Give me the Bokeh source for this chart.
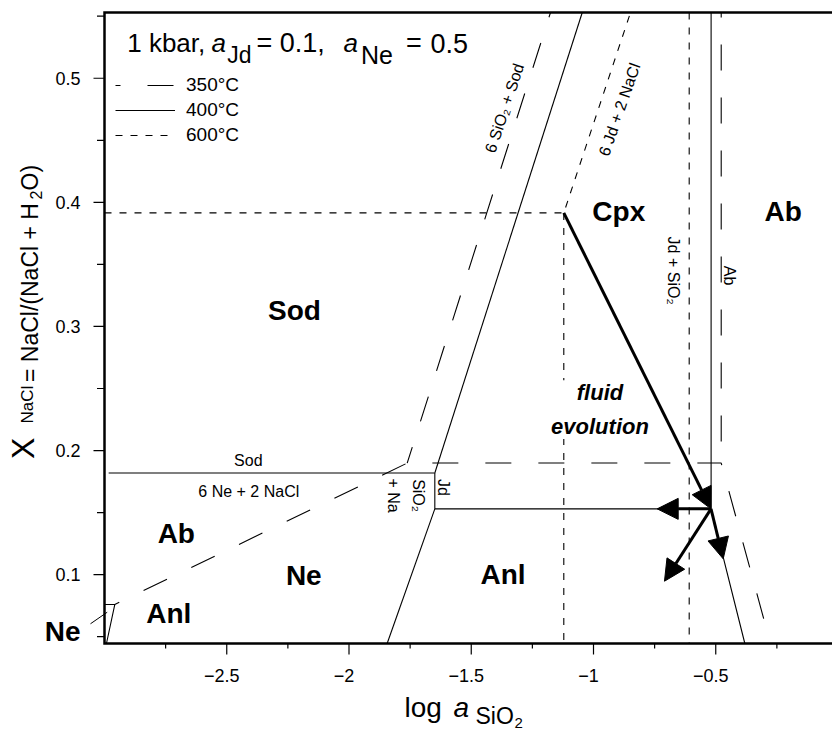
import math
from bokeh.plotting import figure
from bokeh.models import (Range1d, Label, Arrow, NormalHead, ColumnDataSource,
                          Legend, LegendItem)
from bokeh.core.properties import value
from bokeh.embed import file_html
from bokeh.resources import INLINE

FONT = "Liberation Sans"

# ---------------- data (log aSiO2, X_NaCl) ----------------
# plotted window of the diagram
XMIN, XMAX = -3.0, -0.0225
YMIN, YMAX = 0.0445, 0.553

# ticks
x_major = [-2.5, -2.0, -1.5, -1.0, -0.5]
x_labels = ["\u22122.5", "\u22122", "\u22121.5", "\u22121", "\u22120.5"]
x_minor = [-2.75, -2.25, -1.75, -1.25, -0.75, -0.25]
y_major = [0.1, 0.2, 0.3, 0.4, 0.5]
y_labels = ["0.1", "0.2", "0.3", "0.4", "0.5"]
y_minor = [0.05, 0.15, 0.25, 0.35, 0.45, 0.55]

# 400 degC boundaries (solid)
x400_sod = [-2.983, -1.649];            y400_sod = [0.1819, 0.1819]
x400_jd = [-1.649, -1.649, -0.519];     y400_jd = [0.1819, 0.1530, 0.1530]
x400_cpx = [-1.046, -1.649];            y400_cpx = [0.553, 0.1819]
x400_anl = [-1.649, -1.844];            y400_anl = [0.1530, 0.0445]
x400_ab = [-0.519, -0.519, -0.381];     y400_ab = [0.553, 0.1530, 0.0445]
x400_ne = [-3.0, -2.958, -2.992];       y400_ne = [0.0759, 0.0759, 0.0445]

# 350 degC boundaries (long dash)
x350_a = [-2.958, -1.762, -0.4777, -0.2761]; y350_a = [0.0759, 0.1899, 0.1899, 0.0445]
x350_b = [-1.1759, -1.762];                  y350_b = [0.553, 0.1899]
x350_c = [-0.4777, -0.4777];                 y350_c = [0.553, 0.1899]

# 600 degC boundaries (short dash)
x600_a = [-3.0, -1.1215, -0.8487];  y600_a = [0.3915, 0.3915, 0.553]
x600_b = [-1.1215, -1.1215];        y600_b = [0.3915, 0.0445]
x600_c = [-0.6086, -0.6086];        y600_c = [0.553, 0.0445]

# fluid evolution arrows
arrow_x0 = [-1.1215, -0.5194, -0.5194, -0.5194]
arrow_y0 = [0.3915, 0.1530, 0.1530, 0.1530]
arrow_x1 = [-0.5194, -0.7395, -0.7097, -0.4695]
arrow_y1 = [0.1530, 0.1530, 0.0947, 0.1127]

# field labels (bold)
field_text = ["Sod", "Cpx", "Ab", "Ab", "Ne", "Anl", "Anl", "Ne"]
field_x = [-2.223, -0.8965, -0.2245, -2.7063, -2.1849, -2.737, -1.3701, -3.171]
field_y = [0.3128, 0.393, 0.3926, 0.1335, 0.0993, 0.0684, 0.1000, 0.0543]

# reaction labels (small)
rx_text = ["Sod", "6 Ne + 2 NaCl"]
rx_x = [-2.4118, -2.4098]
rx_y = [0.1917, 0.1671]

rot_text = ["6 SiO\u2082 + Sod", "6 Jd + 2 NaCl"]
rot_x = [-1.364, -0.8937]
rot_y = [0.476, 0.4748]
rot_angle = [1.25, 1.235]

vert_text = ["Jd + SiO\u2082", "Ab", "Jd", "SiO\u2082", "+ Na"]
vert_x = [-0.6708, -0.4438, -1.6135, -1.7157, -1.818]
vert_y = [0.345, 0.341, 0.1702, 0.1637, 0.1637]

leader_x = [-3.0573, -2.989]
leader_y = [0.0604, 0.0697]

temps = ["350\u00b0C", "400\u00b0C", "600\u00b0C"]

# ---------------- canvas / frame geometry ----------------
W, H = 832, 731
BOX_L, BOX_T, BOX_W, BOX_H = 104, 12, 728, 631   # plot box inside the canvas
kx = BOX_W / (XMAX - XMIN)
ky = BOX_H / (YMAX - YMIN)

p = figure(width=W, height=H,
           x_range=Range1d(XMIN - BOX_L / kx, XMAX + (W - BOX_L - BOX_W) / kx),
           y_range=Range1d(YMIN - (H - BOX_T - BOX_H) / ky, YMAX + BOX_T / ky),
           x_axis_location=None, y_axis_location=None,
           output_backend="svg", toolbar_location=None, min_border=0)
p.grid.grid_line_color = None
p.outline_line_color = None
p.background_fill_color = "white"
p.border_fill_color = "white"

# ---------------- axes: box, ticks, tick labels ----------------
p.line(x=[XMAX, XMIN, XMIN, XMAX], y=[YMAX, YMAX, YMIN, YMIN],
       line_color="black", line_width=2.5, line_join="miter")
p.ray(x=x_major, y=[YMIN] * len(x_major), length=11, length_units="screen",
      angle=-math.pi / 2, line_color="black", line_width=1.2)
p.ray(x=x_minor, y=[YMIN] * len(x_minor), length=5, length_units="screen",
      angle=-math.pi / 2, line_color="black", line_width=1.2)
p.ray(x=[XMIN] * len(y_major), y=y_major, length=11, length_units="screen",
      angle=math.pi, line_color="black", line_width=1.2)
p.ray(x=[XMIN] * len(y_minor), y=y_minor, length=7.5, length_units="screen",
      angle=math.pi, line_color="black", line_width=1.2)
p.text(x=x_major, y=[YMIN] * len(x_major), text=x_labels, x_offset=-5,
       y_offset=32, text_font=value(FONT), text_font_size="18px",
       text_align="center", text_baseline="middle", text_color="black")
p.text(x=[XMIN] * len(y_major), y=y_major, text=y_labels, x_offset=-24,
       text_font=value(FONT), text_font_size="18px", text_align="right",
       text_baseline="middle", text_color="black")

# ---------------- phase boundaries ----------------
r350 = p.multi_line(xs=[x350_a, x350_b, x350_c], ys=[y350_a, y350_b, y350_c],
                    line_color="black", line_width=1.1,
                    line_dash="26 27", line_dash_offset=21)
r400 = p.multi_line(xs=[x400_sod, x400_jd, x400_cpx, x400_anl, x400_ab, x400_ne],
                    ys=[y400_sod, y400_jd, y400_cpx, y400_anl, y400_ab, y400_ne],
                    line_color="black", line_width=1.1)
r600 = p.multi_line(xs=[x600_a, x600_b, x600_c], ys=[y600_a, y600_b, y600_c],
                    line_color="black", line_width=1.1, line_dash="7 8")
p.line(x=leader_x, y=leader_y, line_color="black", line_width=1)

legend = Legend(items=[LegendItem(label=temps[0], renderers=[r350]),
                       LegendItem(label=temps[1], renderers=[r400]),
                       LegendItem(label=temps[2], renderers=[r600])],
                location=(115, 585), glyph_width=60, glyph_height=22,
                label_height=22, spacing=3, padding=0, margin=0,
                label_standoff=11, label_text_font=FONT,
                label_text_font_size="19px", label_text_color="black",
                background_fill_alpha=0, border_line_color=None)
p.add_layout(legend)

# ---------------- labels ----------------
p.text(x=field_x, y=field_y, text=field_text, text_font=value(FONT),
       text_font_style="bold", text_font_size="28px", text_align="center",
       text_baseline="middle", text_color="black")
p.text(x=rx_x, y=rx_y, text=rx_text, text_font=value(FONT),
       text_font_size="16px", text_align="center", text_baseline="middle",
       text_color="black")
p.text(x=rot_x, y=rot_y, text=rot_text, angle=rot_angle, text_font=value(FONT),
       text_font_size="16px", text_align="center", text_baseline="middle",
       text_color="black")
p.text(x=vert_x, y=vert_y, text=vert_text, angle=-math.pi / 2,
       text_font=value(FONT), text_font_size="16px", text_align="center",
       text_baseline="middle", text_color="black")

p.add_layout(Label(x=-0.9735, y=0.233, text="fluid\nevolution",
                   text_font=FONT, text_font_style="bold italic",
                   text_font_size="22px", text_align="center",
                   text_baseline="middle", text_line_height=1.35,
                   background_fill_color="white", text_color="black"))

asrc = ColumnDataSource(dict(x0=arrow_x0, y0=arrow_y0, x1=arrow_x1, y1=arrow_y1))
p.add_layout(Arrow(x_start="x0", y_start="y0", x_end="x1", y_end="y1",
                   source=asrc, line_width=3, line_color="black",
                   end=NormalHead(size=21, fill_color="black",
                                  line_color="black", line_width=1)))


# ---------------- rich texts placed relative to the plot box ----------------
def piece(txt, x, y, dx, dy, size, style="normal", angle=0.0):
    p.text(x=[x], y=[y], text=[txt], x_offset=dx, y_offset=dy, angle=angle,
           text_font=value(FONT), text_font_size=size,
           text_font_style=style, text_align="left",
           text_baseline="middle", text_color="black")


# title (inside, top-left)
piece("1 kbar,", XMIN, YMAX, 22.7, 30.6, "26px")
piece("a", XMIN, YMAX, 107.0, 30.6, "26px", "italic")
piece("Jd", XMIN, YMAX, 122.7, 42.0, "23px")
piece("= 0.1,", XMIN, YMAX, 152.0, 30.6, "27px")
piece("a", XMIN, YMAX, 239.0, 30.6, "26px", "italic")
piece("Ne", XMIN, YMAX, 256.5, 42.0, "25px")
piece("=", XMIN, YMAX, 301.5, 30.6, "27px")
piece("0.5", XMIN, YMAX, 326.0, 30.6, "27px")

# x axis title: log a_SiO2
piece("log", XMIN, YMIN, 300.0, 64.2, "28px")
piece("a", XMIN, YMIN, 349.0, 64.2, "28px", "italic")
piece("SiO", XMIN, YMIN, 371.0, 72.0, "23px")
piece("2", XMIN, YMIN, 410.0, 79.5, "15px")

# y axis title: X_NaCl = NaCl/(NaCl + H2O)
half = math.pi / 2
piece("X", XMIN, YMIN, -82.0, -184.5, "32px", angle=half)
piece("NaCl", XMIN, YMIN, -77.0, -220.0, "17px", angle=half)
piece("= NaCl/(NaCl + H", XMIN, YMIN, -75.0, -261.5, "23px", angle=half)
piece("2", XMIN, YMIN, -68.6, -444.0, "16px", angle=half)
piece("O)", XMIN, YMIN, -75.0, -453.0, "23px", angle=half)

open("out.html", "w").write(file_html(p, INLINE))
